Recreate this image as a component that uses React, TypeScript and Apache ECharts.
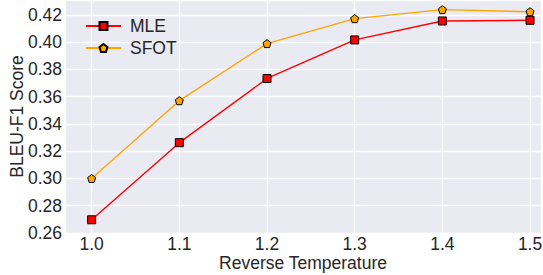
import React, { useEffect, useRef } from "react";
import * as echarts from "echarts";

const temps = [1.0, 1.1, 1.2, 1.3, 1.4, 1.5];
const mleScores = [0.2697, 0.3263, 0.3734, 0.4017, 0.4156, 0.4161];
const sfotScores = [0.3, 0.3571, 0.399, 0.4173, 0.4239, 0.4224];
const seriesNames = ["MLE", "SFOT"];

const PENTAGON = "path://M0,-1 L0.951,-0.309 L0.588,0.809 L-0.588,0.809 L-0.951,-0.309 Z";
const FONT = "Liberation Sans, Arial, sans-serif";
const TXT = "#262626";
const FS = 17.5;

export default function App() {
  const ref = useRef<HTMLDivElement>(null);
  useEffect(() => {
    if (!ref.current) return;
    const chart = echarts.init(ref.current, undefined, { renderer: "svg" });
    chart.setOption({
      animation: false,
      backgroundColor: "#ffffff",
      textStyle: { fontFamily: FONT },
      grid: {
        left: 65,
        right: 2,
        top: 0,
        bottom: 42,
        show: true,
        backgroundColor: "#EAEAF2",
        borderWidth: 0,
        containLabel: false,
        outerBoundsMode: "none",
      },
      legend: {
        orient: "vertical",
        left: 80,
        top: 12,
        itemWidth: 35,
        itemHeight: 10,
        itemGap: 4,
        data: seriesNames,
        textStyle: { fontSize: FS, color: TXT, fontFamily: FONT, padding: [0, 0, 0, 4] },
      },
      xAxis: {
        type: "value",
        min: 0.9696,
        max: 1.5125,
        minInterval: 0.1,
        maxInterval: 0.1,
        name: "Reverse Temperature",
        nameLocation: "middle",
        nameGap: 21,
        nameMoveOverlap: false,
        nameTextStyle: { fontSize: FS, lineHeight: 18, color: TXT, fontFamily: FONT },
        axisLine: { show: false },
        axisTick: { show: false },
        axisLabel: {
          fontSize: FS,
          lineHeight: 17,
          color: TXT,
          fontFamily: FONT,
          margin: 2,
          showMinLabel: false,
          showMaxLabel: false,
          formatter: (v: number) => v.toFixed(1),
        },
        splitLine: { show: true, lineStyle: { color: "#ffffff", width: 1.3 } },
      },
      yAxis: {
        type: "value",
        min: 0.26,
        max: 0.431,
        interval: 0.02,
        name: "BLEU-F1 Score",
        nameLocation: "middle",
        nameGap: 39,
        nameMoveOverlap: false,
        nameTextStyle: { fontSize: FS, color: TXT, fontFamily: FONT },
        axisLine: { show: false },
        axisTick: { show: false },
        axisLabel: {
          fontSize: FS,
          color: TXT,
          fontFamily: FONT,
          margin: 3,
          showMaxLabel: false,
          formatter: (v: number) => v.toFixed(2),
        },
        splitLine: { show: true, lineStyle: { color: "#ffffff", width: 1.3 } },
      },
      series: [
        {
          name: seriesNames[0],
          type: "line",
          data: temps.map((t, i) => [t, mleScores[i]]),
          symbol: "rect",
          symbolSize: 8,
          lineStyle: { color: "#ff0000", width: 1.4 },
          itemStyle: { color: "#ff0000", borderColor: "#000000", borderWidth: 1 },
        },
        {
          name: seriesNames[1],
          type: "line",
          data: temps.map((t, i) => [t, sfotScores[i]]),
          symbol: PENTAGON,
          symbolSize: 8,
          lineStyle: { color: "#ffa500", width: 1.4 },
          itemStyle: { color: "#ffa500", borderColor: "#000000", borderWidth: 1 },
        },
      ],
    });
    return () => chart.dispose();
  }, []);
  return <div ref={ref} style={{ width: 543, height: 275, position: "absolute", left: 0, top: 0 }} />;
}
